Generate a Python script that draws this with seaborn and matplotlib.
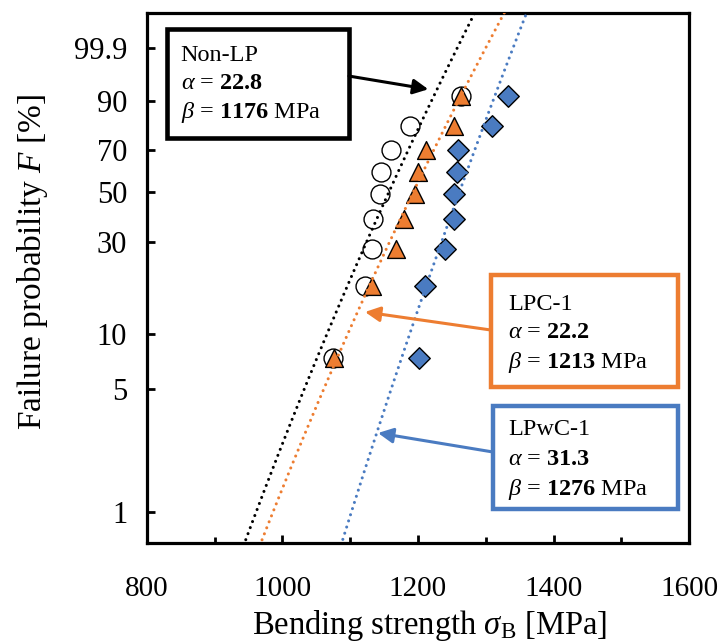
import numpy as np
import pandas as pd
import matplotlib
matplotlib.use("Agg")
import matplotlib.pyplot as plt
from matplotlib.patches import Rectangle
import seaborn as sns

# Cumulative failure probability of each ranked specimen [%]
failure_pct = [7.4, 18.1, 27.7, 38.3, 48.9, 59.6, 70.2, 80.9, 91.5]

# Bending strength of the ranked specimens [MPa]
strength_non_lp = [1075, 1122, 1132, 1133, 1144, 1145, 1160, 1188, 1264]
strength_lpc1 = [1076, 1132, 1168, 1179, 1195, 1200, 1212, 1253, 1264]
strength_lpwc1 = [1201, 1210, 1240, 1253, 1253, 1257, 1259, 1309, 1332]

# Weibull parameters (shape alpha, scale beta [MPa])
groups = ["Non-LP", "LPC-1", "LPwC-1"]
alpha = [22.8, 22.2, 31.3]
beta = [1176, 1213, 1276]

# Probability axis ticks
f_ticks = [1, 5, 10, 30, 50, 70, 90, 99]
f_tick_labels = ["1", "5", "10", "30", "50", "70", "90", "99.9"]
x_major = [800, 1000, 1200, 1400, 1600]
x_minor = [900, 1100, 1300, 1500]

BLACK = "#000000"
ORANGE = "#ED7D31"
BLUE = "#4A7BC1"


def weibull_y(f_pct):
    f = np.asarray(f_pct, dtype=float) / 100.0
    return np.log(-np.log(1.0 - f))


sns.set_theme(style="white")
plt.rcParams["font.family"] = ["Liberation Serif", "DejaVu Serif"]
plt.rcParams["mathtext.fontset"] = "custom"
plt.rcParams["mathtext.rm"] = "Liberation Serif"
plt.rcParams["mathtext.it"] = "Liberation Serif:italic"
plt.rcParams["mathtext.bf"] = "Liberation Serif:bold"

fig = plt.figure(figsize=(7.19, 6.43), dpi=100)
ax = fig.add_axes([0.2040, 0.1560, 0.7547, 0.8243])

y_pts = weibull_y(failure_pct)
df = pd.DataFrame({
    "strength": strength_non_lp + strength_lpc1 + strength_lpwc1,
    "y": np.tile(y_pts, 3),
    "group": np.repeat(groups, len(failure_pct)),
})

sns.scatterplot(data=df[df.group == "Non-LP"], x="strength", y="y", marker="o",
                s=185, facecolor="white", edgecolor=BLACK, linewidth=1.0,
                ax=ax, zorder=3, legend=False)
sns.scatterplot(data=df[df.group == "LPC-1"], x="strength", y="y", marker="^",
                s=165, color=ORANGE, edgecolor=BLACK, linewidth=1.0,
                ax=ax, zorder=4, legend=False)
sns.scatterplot(data=df[df.group == "LPwC-1"], x="strength", y="y", marker="D",
                s=120, color=BLUE, edgecolor=BLACK, linewidth=1.0,
                ax=ax, zorder=4, legend=False)

# Fitted Weibull lines: y = alpha * ln(sigma / beta)
y_line = np.linspace(-5.2, 2.2, 200)
for a, b, c in zip(alpha, beta, [BLACK, ORANGE, BLUE]):
    x_line = b * np.exp(y_line / a)
    sns.lineplot(x=x_line, y=y_line, sort=False, estimator=None, color=c,
                 lw=2.2, linestyle=(0, (0.01, 2.1)), dash_capstyle="round",
                 ax=ax, zorder=5, legend=False)

ax.set_xlim(800, 1600)
ax.set_ylim(-5, 2)
ax.set_xticks(x_major)
ax.set_xticks(x_minor, minor=True)
ax.set_yticks(weibull_y(f_ticks))
ax.set_yticklabels(f_tick_labels)

for side in ["left", "right", "top", "bottom"]:
    ax.spines[side].set_visible(True)
    ax.spines[side].set_color(BLACK)
    ax.spines[side].set_linewidth(2.3)

ax.tick_params(axis="both", which="major", direction="in", length=5.8,
               width=2.0, color=BLACK, labelcolor=BLACK)
ax.tick_params(axis="x", which="major", pad=24, labelsize=21)
ax.tick_params(axis="y", which="major", pad=14, labelsize=22)
ax.tick_params(axis="x", which="minor", direction="in", length=4.3,
               width=2.0, color=BLACK, bottom=True)
ax.tick_params(left=True, bottom=True)

ax.set_xlabel(r"Bending strength $\sigma_\mathrm{B}$ [MPa]", fontsize=23.5,
              color=BLACK)
ax.set_ylabel(r"Failure probability $F$ [%]", fontsize=24, color=BLACK)
ax.xaxis.set_label_coords(0.522, -0.124)
ax.yaxis.set_label_coords(-0.178, 0.53)
ax.grid(False)

# Annotation boxes with the Weibull parameters
boxes = [
    dict(rect=(0.0369, 0.7630, 0.3359, 0.2057), edge=BLACK, lw=3.3,
         tx=0.0627, ty=[0.9094, 0.8566, 0.8013],
         arrow_from=(0.3728, 0.8804), arrow_to=(0.5190, 0.8555)),
    dict(rect=(0.6340, 0.2943, 0.3452, 0.2108), edge=ORANGE, lw=3.2,
         tx=0.6659, ty=[0.4391, 0.3862, 0.3296],
         arrow_from=(0.6340, 0.4013), arrow_to=(0.4023, 0.4353)),
    dict(rect=(0.6382, 0.0636, 0.3410, 0.1943), edge=BLUE, lw=3.2,
         tx=0.6659, ty=[0.2032, 0.1466, 0.0900],
         arrow_from=(0.6382, 0.1711), arrow_to=(0.4263, 0.2070)),
]

for g, a, b, bx in zip(groups, alpha, beta, boxes):
    x0, y0, w, h = bx["rect"]
    ax.add_patch(Rectangle((x0, y0), w, h, transform=ax.transAxes,
                           facecolor="white", edgecolor=bx["edge"],
                           lw=bx["lw"], zorder=6, joinstyle="miter"))
    ax.annotate("", xy=bx["arrow_to"], xytext=bx["arrow_from"],
                xycoords="axes fraction", textcoords="axes fraction",
                arrowprops=dict(arrowstyle="-|>,head_length=0.6,head_width=0.3",
                                color=bx["edge"], lw=2.2, mutation_scale=15,
                                shrinkA=0, shrinkB=0),
                zorder=6)
    lines = [g,
             r"$\alpha$ = $\mathbf{%.1f}$" % a,
             r"$\beta$ = $\mathbf{%d}$ MPa" % b]
    for t, yy in zip(lines, bx["ty"]):
        ax.text(bx["tx"], yy, t, transform=ax.transAxes, fontsize=17.5,
                ha="left", va="baseline", color=BLACK, zorder=7)

fig.savefig("out.png", dpi=100)
